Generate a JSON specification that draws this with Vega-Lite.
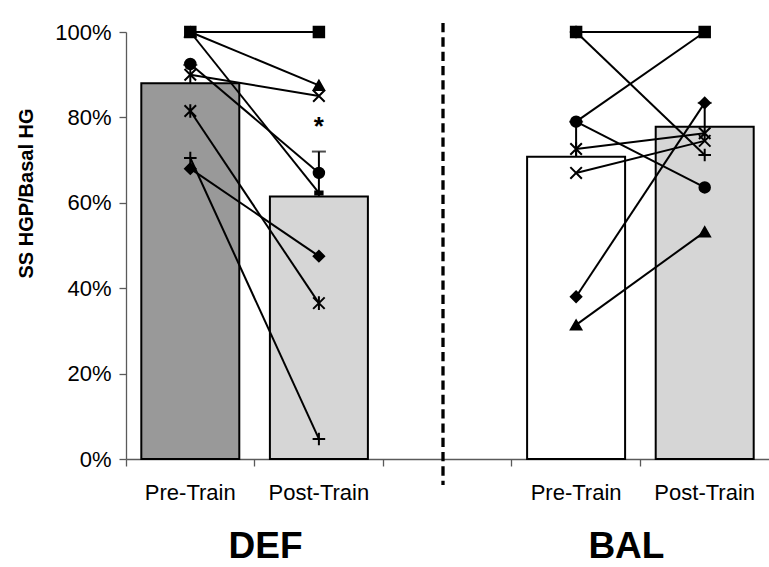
{
  "$schema": "https://vega.github.io/schema/vega-lite/v6.json",
  "width": 643,
  "height": 427,
  "autosize": "none",
  "padding": {"left": 126, "top": 32, "right": 0, "bottom": 108},
  "background": "white",
  "config": {
    "view": {"stroke": null},
    "font": "Liberation Sans",
    "axis": {
      "grid": false,
      "labelFont": "Liberation Sans",
      "labelFontSize": 22,
      "labelColor": "#000000",
      "domainColor": "#5a5a5a",
      "domainWidth": 1.3,
      "tickColor": "#5a5a5a",
      "tickWidth": 1.3
    }
  },
  "datasets": {
    "groupMeans": [
      {"slot": "DEF Pre-Train", "mean": 88.0, "upper": 92.3},
      {"slot": "DEF Post-Train", "mean": 61.5, "upper": 72.0},
      {"slot": "BAL Pre-Train", "mean": 70.8, "upper": 79.0},
      {"slot": "BAL Post-Train", "mean": 77.8, "upper": 83.4}
    ],
    "subjects": [
      {"subject": "D2", "marker": "triangle", "slot": "DEF Pre-Train", "pct": 100},
      {"subject": "D2", "marker": "triangle", "slot": "DEF Post-Train", "pct": 87.5},
      {"subject": "D3", "marker": "dash", "slot": "DEF Pre-Train", "pct": 100},
      {"subject": "D3", "marker": "dash", "slot": "DEF Post-Train", "pct": 62.3},
      {"subject": "D1", "marker": "square", "slot": "DEF Pre-Train", "pct": 100},
      {"subject": "D1", "marker": "square", "slot": "DEF Post-Train", "pct": 100},
      {"subject": "D5", "marker": "cross", "slot": "DEF Pre-Train", "pct": 90},
      {"subject": "D5", "marker": "cross", "slot": "DEF Post-Train", "pct": 85},
      {"subject": "D4", "marker": "circle", "slot": "DEF Pre-Train", "pct": 92.5},
      {"subject": "D4", "marker": "circle", "slot": "DEF Post-Train", "pct": 67},
      {"subject": "D6", "marker": "asterisk", "slot": "DEF Pre-Train", "pct": 81.5},
      {"subject": "D6", "marker": "asterisk", "slot": "DEF Post-Train", "pct": 36.5},
      {"subject": "D7", "marker": "plus", "slot": "DEF Pre-Train", "pct": 70.5},
      {"subject": "D7", "marker": "plus", "slot": "DEF Post-Train", "pct": 4.7},
      {"subject": "D8", "marker": "diamond", "slot": "DEF Pre-Train", "pct": 68},
      {"subject": "D8", "marker": "diamond", "slot": "DEF Post-Train", "pct": 47.5},
      {"subject": "B2", "marker": "plus", "slot": "BAL Pre-Train", "pct": 100},
      {"subject": "B2", "marker": "plus", "slot": "BAL Post-Train", "pct": 71.2},
      {"subject": "B3", "marker": "dash", "slot": "BAL Pre-Train", "pct": 79},
      {"subject": "B3", "marker": "dash", "slot": "BAL Post-Train", "pct": 100},
      {"subject": "B1", "marker": "square", "slot": "BAL Pre-Train", "pct": 100},
      {"subject": "B1", "marker": "square", "slot": "BAL Post-Train", "pct": 100},
      {"subject": "B4", "marker": "circle", "slot": "BAL Pre-Train", "pct": 79},
      {"subject": "B4", "marker": "circle", "slot": "BAL Post-Train", "pct": 63.6},
      {"subject": "B5", "marker": "asterisk", "slot": "BAL Pre-Train", "pct": 72.6},
      {"subject": "B5", "marker": "asterisk", "slot": "BAL Post-Train", "pct": 76.3},
      {"subject": "B6", "marker": "cross", "slot": "BAL Pre-Train", "pct": 67},
      {"subject": "B6", "marker": "cross", "slot": "BAL Post-Train", "pct": 74.5},
      {"subject": "B7", "marker": "diamond", "slot": "BAL Pre-Train", "pct": 38},
      {"subject": "B7", "marker": "diamond", "slot": "BAL Post-Train", "pct": 83.4},
      {"subject": "B8", "marker": "triangle", "slot": "BAL Pre-Train", "pct": 31.4},
      {"subject": "B8", "marker": "triangle", "slot": "BAL Post-Train", "pct": 53.2}
    ]
  },
  "layer": [
    {
      "data": {"name": "groupMeans"},
      "mark": {"type": "bar", "width": {"band": 0.762}, "stroke": "#000000", "strokeWidth": 2},
      "encoding": {
        "x": {
          "field": "slot",
          "type": "nominal",
          "sort": null,
          "scale": {
            "domain": ["DEF Pre-Train", "DEF Post-Train", "gap", "BAL Pre-Train", "BAL Post-Train"],
            "paddingInner": 0,
            "paddingOuter": 0
          },
          "axis": {
            "title": null,
            "orient": "bottom",
            "bandPosition": 0,
            "labelAngle": 0,
            "labelAlign": "center",
            "tickSize": 7,
            "labelPadding": 16,
            "labelExpr": "datum.value == 'gap' ? '' : split(datum.value, ' ')[1]"
          }
        },
        "y": {
          "field": "mean",
          "type": "quantitative",
          "scale": {"domain": [0, 100], "nice": false, "zero": true},
          "axis": {
            "title": "SS HGP/Basal HG",
            "titleFont": "Liberation Sans",
            "titleFontWeight": "bold",
            "titleFontSize": 20,
            "titleColor": "#000000",
            "titleAngle": 270,
            "titleAlign": "center",
            "titleBaseline": "middle",
            "titleX": -100,
            "titleY": 161,
            "values": [0, 20, 40, 60, 80, 100],
            "labelExpr": "datum.value + '%'",
            "tickSize": 7,
            "labelPadding": 8
          }
        },
        "color": {
          "field": "slot",
          "type": "nominal",
          "legend": null,
          "scale": {
            "domain": ["DEF Pre-Train", "DEF Post-Train", "BAL Pre-Train", "BAL Post-Train"],
            "range": ["#999999", "#d6d6d6", "#ffffff", "#d6d6d6"]
          }
        }
      }
    },
    {
      "data": {"name": "groupMeans"},
      "mark": {"type": "rule", "color": "#000000", "strokeWidth": 2},
      "encoding": {
        "x": {"field": "slot", "type": "nominal", "sort": null},
        "y": {"field": "mean", "type": "quantitative"},
        "y2": {"field": "upper"}
      }
    },
    {
      "data": {"name": "groupMeans"},
      "mark": {"type": "tick", "orient": "horizontal", "color": "#000000", "size": 14, "thickness": 2},
      "encoding": {
        "x": {"field": "slot", "type": "nominal", "sort": null},
        "y": {"field": "upper", "type": "quantitative"}
      }
    },
    {
      "data": {"name": "subjects"},
      "mark": {"type": "line", "color": "#000000", "strokeWidth": 2},
      "encoding": {
        "x": {"field": "slot", "type": "nominal", "sort": null},
        "y": {"field": "pct", "type": "quantitative"},
        "detail": {"field": "subject", "type": "nominal"}
      }
    },
    {
      "data": {"name": "subjects"},
      "mark": {"type": "point", "filled": true, "fill": "#000000", "stroke": "#000000", "strokeWidth": 2, "size": 110, "opacity": 1},
      "encoding": {
        "x": {"field": "slot", "type": "nominal", "sort": null},
        "y": {"field": "pct", "type": "quantitative"},
        "shape": {
          "field": "marker",
          "type": "nominal",
          "legend": null,
          "scale": {
            "domain": ["square", "triangle", "dash", "circle", "cross", "asterisk", "plus", "diamond"],
            "range": [
              "square",
              "triangle-up",
              "M-0.7,-0.3L0.7,-0.3L0.7,0.3L-0.7,0.3Z",
              "circle",
              "M-1.1,-1.1L1.1,1.1M1.1,-1.1L-1.1,1.1",
              "M-1.1,-1.1L1.1,1.1M1.1,-1.1L-1.1,1.1M0,-1.3L0,1.3",
              "M-1.2,0L1.2,0M0,-1.2L0,1.2",
              "diamond"
            ]
          }
        }
      }
    },
    {
      "data": {"values": [{"slot": "DEF Post-Train", "note": "*"}]},
      "mark": {"type": "text", "font": "Liberation Sans", "fontWeight": "bold", "fontSize": 26, "baseline": "alphabetic", "align": "center", "color": "#000000"},
      "encoding": {
        "x": {"field": "slot", "type": "nominal", "sort": null},
        "y": {"datum": 75.8},
        "text": {"field": "note"}
      }
    },
    {
      "data": {"values": [{"slot": "gap"}]},
      "mark": {"type": "rule", "color": "#000000", "strokeWidth": 3.3, "strokeDash": [9.3, 5], "xOffset": -4.5},
      "encoding": {
        "x": {"field": "slot", "type": "nominal", "sort": null},
        "y": {"datum": 102.1},
        "y2": {"datum": -6.1}
      }
    },
    {
      "data": {"values": [{"slot": "DEF Post-Train", "group": "DEF"}]},
      "mark": {"type": "text", "font": "Liberation Sans", "fontWeight": "bold", "fontSize": 37, "baseline": "alphabetic", "align": "center", "color": "#000000", "dx": 11},
      "encoding": {
        "x": {"field": "slot", "type": "nominal", "sort": null, "bandPosition": 0},
        "y": {"datum": -23.2},
        "text": {"field": "group"}
      }
    },
    {
      "data": {"values": [{"slot": "BAL Post-Train", "group": "BAL"}]},
      "mark": {"type": "text", "font": "Liberation Sans", "fontWeight": "bold", "fontSize": 37, "baseline": "alphabetic", "align": "center", "color": "#000000", "dx": -14},
      "encoding": {
        "x": {"field": "slot", "type": "nominal", "sort": null, "bandPosition": 0},
        "y": {"datum": -23.2},
        "text": {"field": "group"}
      }
    }
  ]
}
